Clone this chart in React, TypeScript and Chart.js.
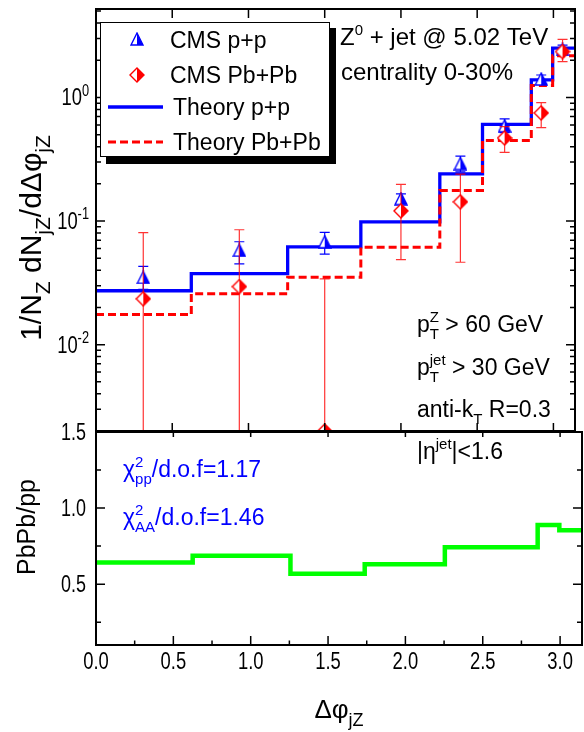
import React, { useEffect, useRef } from 'react';
import { Chart, registerables } from 'chart.js';
Chart.register(...registerables);

// ---------- data ----------
const binEdges = [0, 0.625, 1.257, 1.737, 2.255, 2.535, 2.855, 2.995, Math.PI];
const theoryPP = [0.0273, 0.0375, 0.0617, 0.0985, 0.2406, 0.605, 1.39, 2.51];
const theoryPbPb = [0.0175, 0.0258, 0.0351, 0.0614, 0.177, 0.449, 1.25, 2.18];
const ratioPbPbPP = [0.642, 0.687, 0.568, 0.63, 0.742, 0.742, 0.888, 0.855];

const cmsX = [0.31, 0.94, 1.5, 2.0, 2.39, 2.68, 2.92, 3.06];
const ppY = [0.035, 0.058, 0.068, 0.152, 0.292, 0.59, 1.41, 2.45];
const ppLo = [0.028, 0.045, 0.054, 0.138, 0.25, 0.52, 1.3, 2.25];
const ppHi = [0.043, 0.068, 0.081, 0.166, 0.335, 0.67, 1.52, 2.65];
const aaY = [0.0235, 0.0295, 0.002, 0.121, 0.143, 0.47, 0.75, 2.35];
const aaLo = [0.00001, 0.00001, 0.00001, 0.0488, 0.0464, 0.36, 0.57, 1.95];
const aaHi = [0.0805, 0.085, 0.034, 0.198, 0.24, 0.58, 0.91, 2.95];

const xMajor = [0.5, 1.0, 1.5, 2.0, 2.5, 3.0];
const xMinor = [0.25, 0.75, 1.25, 1.75, 2.25, 2.75];
const xLabelVals = [0, 0.5, 1.0, 1.5, 2.0, 2.5, 3.0];
const xLabels = ['0.0', '0.5', '1.0', '1.5', '2.0', '2.5', '3.0'];
const logMajor = [0.01, 0.1, 1];
const logExp = ['-2', '-1', '0'];
const ratioMajor = [0.5, 1.0, 1.5];
const ratioLabels = ['0.5', '1.0', '1.5'];
const ratioMinor = [0.25, 0.75, 1.25];

const FONT = "'Liberation Sans', Arial, Helvetica, sans-serif";
const BLUE = '#0000ff';
const RED = '#ff0000';
const GREEN = '#00ff00';
const BOT_OFF = 400;

type Seg = { t?: string; sub?: string; sup?: string };

function segWidth(ctx: CanvasRenderingContext2D, segs: Seg[], size: number, small: number) {
  let w = 0;
  for (const s of segs) {
    if (s.t) { ctx.font = `${size}px ${FONT}`; w += ctx.measureText(s.t).width; }
    if (s.sub || s.sup) {
      ctx.font = `${small}px ${FONT}`;
      w += Math.max(s.sub ? ctx.measureText(s.sub).width : 0, s.sup ? ctx.measureText(s.sup).width : 0);
    }
  }
  return w;
}

function drawRich(ctx: CanvasRenderingContext2D, segs: Seg[], x: number, y: number,
  o: { size: number; color?: string; align?: string; sx?: number; rot?: number; small?: number }) {
  const size = o.size;
  const small = o.small ?? Math.round(size * 0.68);
  ctx.save();
  ctx.translate(x, y);
  if (o.rot) ctx.rotate(o.rot);
  ctx.scale(o.sx ?? 1, 1);
  ctx.fillStyle = o.color ?? '#000';
  ctx.textAlign = 'left';
  ctx.textBaseline = 'alphabetic';
  const w = segWidth(ctx, segs, size, small);
  let cx = o.align === 'center' ? -w / 2 : o.align === 'right' ? -w : 0;
  for (const s of segs) {
    if (s.t) {
      ctx.font = `${size}px ${FONT}`;
      ctx.fillText(s.t, cx, 0);
      cx += ctx.measureText(s.t).width;
    }
    if (s.sub || s.sup) {
      ctx.font = `${small}px ${FONT}`;
      let mw = 0;
      if (s.sub) { ctx.fillText(s.sub, cx, size * 0.3); mw = Math.max(mw, ctx.measureText(s.sub).width); }
      if (s.sup) { ctx.fillText(s.sup, cx, -size * 0.42); mw = Math.max(mw, ctx.measureText(s.sup).width); }
      cx += mw;
    }
  }
  ctx.restore();
}

function makeTriangle(color: string) {
  const c = document.createElement('canvas');
  c.width = 14; c.height = 14;
  const g = c.getContext('2d')!;
  const ax = 7, ay = 1, lx = 1, by = 13, rx = 13;
  g.beginPath(); g.moveTo(ax, ay); g.lineTo(lx, by); g.lineTo(ax, by); g.closePath();
  g.fillStyle = '#fff'; g.fill();
  g.beginPath(); g.moveTo(ax, ay); g.lineTo(rx, by); g.lineTo(ax, by); g.closePath();
  g.fillStyle = color; g.fill();
  g.beginPath(); g.moveTo(ax, ay); g.lineTo(lx, by); g.lineTo(rx, by); g.closePath();
  g.strokeStyle = color; g.lineWidth = 1.4; g.stroke();
  return c;
}

function makeDiamond(color: string) {
  const c = document.createElement('canvas');
  c.width = 16; c.height = 16;
  const g = c.getContext('2d')!;
  g.beginPath(); g.moveTo(8, 1); g.lineTo(1, 8); g.lineTo(8, 15); g.closePath();
  g.fillStyle = '#fff'; g.fill();
  g.beginPath(); g.moveTo(8, 1); g.lineTo(15, 8); g.lineTo(8, 15); g.closePath();
  g.fillStyle = color; g.fill();
  g.beginPath(); g.moveTo(8, 1); g.lineTo(15, 8); g.lineTo(8, 15); g.lineTo(1, 8); g.closePath();
  g.strokeStyle = color; g.lineWidth = 1.4; g.stroke();
  return c;
}

function stepData(vals: number[]) {
  const pts = binEdges.slice(0, -1).map((x, i) => ({ x, y: vals[i] }));
  pts.push({ x: binEdges[binEdges.length - 1], y: vals[vals.length - 1] });
  return pts;
}

function tickY(ctx: CanvasRenderingContext2D, a: any, py: number, len: number) {
  ctx.beginPath();
  ctx.moveTo(a.left, py); ctx.lineTo(a.left + len, py);
  ctx.moveTo(a.right, py); ctx.lineTo(a.right - len, py);
  ctx.stroke();
}
function tickX(ctx: CanvasRenderingContext2D, px: number, yEdge: number, len: number) {
  ctx.beginPath(); ctx.moveTo(px, yEdge); ctx.lineTo(px, yEdge + len); ctx.stroke();
}

const errPlugin = {
  id: 'errbars',
  beforeDatasetDraw(chart: any, args: any) {
    const i = args.index;
    let lo: number[], hi: number[], color: string;
    if (i === 2) { lo = ppLo; hi = ppHi; color = BLUE; }
    else if (i === 3) { lo = aaLo; hi = aaHi; color = 'rgba(255,0,0,0.8)'; }
    else return;
    const { ctx, chartArea: a, scales } = chart;
    const x = scales.x, y = scales.y;
    ctx.save();
    ctx.beginPath(); ctx.rect(a.left, a.top, a.right - a.left, a.bottom - a.top); ctx.clip();
    ctx.strokeStyle = color; ctx.lineWidth = 1.2;
    cmsX.forEach((xv, k) => {
      const px = x.getPixelForValue(xv);
      const p1 = y.getPixelForValue(lo[k]);
      const p2 = y.getPixelForValue(hi[k]);
      ctx.beginPath();
      ctx.moveTo(px, p1); ctx.lineTo(px, p2);
      ctx.moveTo(px - 5, p2); ctx.lineTo(px + 5, p2);
      if (lo[k] >= y.min) { ctx.moveTo(px - 5, p1); ctx.lineTo(px + 5, p1); }
      ctx.stroke();
    });
    ctx.restore();
  },
};

export default function App() {
  const topRef = useRef<HTMLCanvasElement>(null);
  const botRef = useRef<HTMLCanvasElement>(null);

  useEffect(() => {
    const tri = makeTriangle(BLUE);
    const dia = makeDiamond(RED);

    const topDecor = {
      id: 'topDecor',
      afterDraw(chart: any) {
        const { ctx, chartArea: a, scales } = chart;
        const x = scales.x, y = scales.y;
        ctx.save();
        // frame
        ctx.strokeStyle = '#000'; ctx.lineWidth = 2;
        ctx.strokeRect(a.left, a.top, a.right - a.left, a.bottom - a.top);
        ctx.lineWidth = 1.5;
        // log ticks
        for (const d of [0.001, 0.01, 0.1, 1]) {
          for (let m = 2; m <= 9; m++) {
            const v = m * d;
            if (v >= y.min && v <= y.max) tickY(ctx, a, y.getPixelForValue(v), 5);
          }
        }
        logMajor.forEach((v) => tickY(ctx, a, y.getPixelForValue(v), 9));
        xMajor.forEach((v) => {
          const px = x.getPixelForValue(v);
          tickX(ctx, px, a.top, 9);
          tickX(ctx, px, a.bottom, -8);
        });
        // y tick labels
        logMajor.forEach((v, i) => {
          drawRich(ctx, [{ t: '10', sup: logExp[i] }], 89, y.getPixelForValue(v) + 8,
            { size: 23, sx: 0.8, align: 'right', small: 16 });
        });
        // y title
        drawRich(ctx, [{ t: '1/N', sub: 'Z' }, { t: ' dN', sub: 'jZ' }, { t: '/dΔφ', sub: 'jZ' }],
          41, 238, { size: 30, rot: -Math.PI / 2, align: 'center', small: 21 });

        // legend
        ctx.fillStyle = '#000';
        ctx.fillRect(106, 28, 230, 136);
        ctx.fillStyle = '#fff';
        ctx.fillRect(100, 22, 230, 135);
        ctx.strokeStyle = '#000'; ctx.lineWidth = 1;
        ctx.strokeRect(100.5, 22.5, 229, 134);
        ctx.drawImage(tri, 137 - 7, 39 - 7);
        ctx.drawImage(dia, 137 - 8, 75 - 8);
        ctx.lineWidth = 3.3; ctx.strokeStyle = BLUE;
        ctx.beginPath(); ctx.moveTo(108, 107); ctx.lineTo(163, 107); ctx.stroke();
        ctx.lineWidth = 3; ctx.strokeStyle = RED; ctx.setLineDash([8, 4]);
        ctx.beginPath(); ctx.moveTo(108, 142); ctx.lineTo(163, 142); ctx.stroke();
        ctx.setLineDash([]);
        drawRich(ctx, [{ t: 'CMS p+p' }], 170, 48, { size: 23 });
        drawRich(ctx, [{ t: 'CMS Pb+Pb' }], 170, 83, { size: 23 });
        drawRich(ctx, [{ t: 'Theory p+p' }], 173, 115, { size: 23 });
        drawRich(ctx, [{ t: 'Theory Pb+Pb' }], 173, 150, { size: 23 });

        // annotations
        drawRich(ctx, [{ t: 'Z', sup: '0' }, { t: ' + jet @ 5.02 TeV' }], 340, 45, { size: 24, small: 15 });
        drawRich(ctx, [{ t: 'centrality 0-30%' }], 341, 80, { size: 24 });
        drawRich(ctx, [{ t: 'p', sub: 'T', sup: 'Z' }, { t: ' > 60 GeV' }], 417, 332, { size: 23, small: 15 });
        drawRich(ctx, [{ t: 'p', sub: 'T', sup: 'jet' }, { t: ' > 30 GeV' }], 417, 375, { size: 23, small: 15 });
        drawRich(ctx, [{ t: 'anti-k', sub: 'T' }, { t: ' R=0.3' }], 417, 417, { size: 23, small: 15 });
        ctx.restore();
      },
    };

    const top = new Chart(topRef.current!, {
      type: 'line',
      data: {
        datasets: [
          { label: 'Theory p+p', data: stepData(theoryPP), borderColor: BLUE, borderWidth: 3.3, stepped: 'before', pointRadius: 0, fill: false, order: 3 },
          { label: 'Theory Pb+Pb', data: stepData(theoryPbPb), borderColor: RED, borderWidth: 3, borderDash: [8, 4], stepped: 'before', pointRadius: 0, fill: false, order: 2 },
          { label: 'CMS p+p', data: cmsX.map((x, i) => ({ x, y: ppY[i] })), showLine: false, pointStyle: tri, pointRadius: 7, order: 1, clip: 0 },
          { label: 'CMS Pb+Pb', data: cmsX.map((x, i) => ({ x, y: aaY[i] })), showLine: false, pointStyle: dia, pointRadius: 8, order: 0, clip: 0 },
        ] as any,
      },
      options: {
        animation: false,
        responsive: false,
        events: [],
        layout: { padding: { left: 96, right: 2, top: 6, bottom: 8 } },
        plugins: { legend: { display: false }, tooltip: { enabled: false } },
        scales: {
          x: { type: 'linear', min: 0, max: Math.PI, display: false },
          y: { type: 'logarithmic', min: 0.002, max: 5.2, display: false },
        },
      } as any,
      plugins: [errPlugin, topDecor],
    });

    const botDecor = {
      id: 'botDecor',
      afterDraw(chart: any) {
        const { ctx, chartArea: a, scales } = chart;
        const x = scales.x, y = scales.y;
        ctx.save();
        ctx.strokeStyle = '#000'; ctx.lineWidth = 2;
        ctx.strokeRect(a.left, a.top, a.right - a.left, a.bottom - a.top);
        ctx.lineWidth = 1.5;
        ratioMajor.forEach((v) => tickY(ctx, a, y.getPixelForValue(v), 9));
        ratioMinor.forEach((v) => tickY(ctx, a, y.getPixelForValue(v), 5));
        xMajor.forEach((v) => {
          const px = x.getPixelForValue(v);
          tickX(ctx, px, a.bottom, -9);
          tickX(ctx, px, a.top, 5);
        });
        xMinor.forEach((v) => tickX(ctx, x.getPixelForValue(v), a.bottom, -4.5));
        // labels (use absolute coords)
        ctx.translate(0, -BOT_OFF);
        ratioMajor.forEach((v, i) => {
          drawRich(ctx, [{ t: ratioLabels[i] }], 86, y.getPixelForValue(v) + BOT_OFF + 8, { size: 23, sx: 0.78, align: 'right' });
        });
        xLabelVals.forEach((v, i) => {
          drawRich(ctx, [{ t: xLabels[i] }], x.getPixelForValue(v), 669, { size: 23, sx: 0.8, align: 'center' });
        });
        drawRich(ctx, [{ t: 'PbPb/pp' }], 35, 527, { size: 25, rot: -Math.PI / 2, align: 'center' });
        drawRich(ctx, [{ t: 'Δφ', sub: 'jZ' }], 339, 718, { size: 26, align: 'center', small: 18 });
        drawRich(ctx, [{ t: '|η', sup: 'jet' }, { t: '|<1.6' }], 417, 459, { size: 23, small: 15 });
        drawRich(ctx, [{ t: 'χ', sup: '2', sub: 'pp' }, { t: '/d.o.f=1.17' }], 123, 477, { size: 23, small: 15, color: BLUE });
        drawRich(ctx, [{ t: 'χ', sup: '2', sub: 'AA' }, { t: '/d.o.f=1.46' }], 123, 525, { size: 23, small: 15, color: BLUE });
        ctx.restore();
      },
    };

    const bot = new Chart(botRef.current!, {
      type: 'line',
      data: {
        datasets: [
          { label: 'PbPb/pp', data: stepData(ratioPbPbPP), borderColor: GREEN, borderWidth: 4.5, stepped: 'before', pointRadius: 0, fill: false },
        ] as any,
      },
      options: {
        animation: false,
        responsive: false,
        events: [],
        layout: { padding: { left: 96, right: 2, top: 32, bottom: 87 } },
        plugins: { legend: { display: false }, tooltip: { enabled: false } },
        scales: {
          x: { type: 'linear', min: 0, max: Math.PI, display: false },
          y: { type: 'linear', min: 0.1, max: 1.5, display: false },
        },
      } as any,
      plugins: [botDecor],
    });

    return () => { top.destroy(); bot.destroy(); };
  }, []);

  return (
    <div style={{ position: 'absolute', left: 0, top: 0, width: 584, height: 732, background: '#fff' }}>
      <canvas ref={topRef} width={584} height={440} style={{ position: 'absolute', left: 0, top: 0, width: 584, height: 440 }} />
      <canvas ref={botRef} width={584} height={332} style={{ position: 'absolute', left: 0, top: BOT_OFF, width: 584, height: 332 }} />
    </div>
  );
}
